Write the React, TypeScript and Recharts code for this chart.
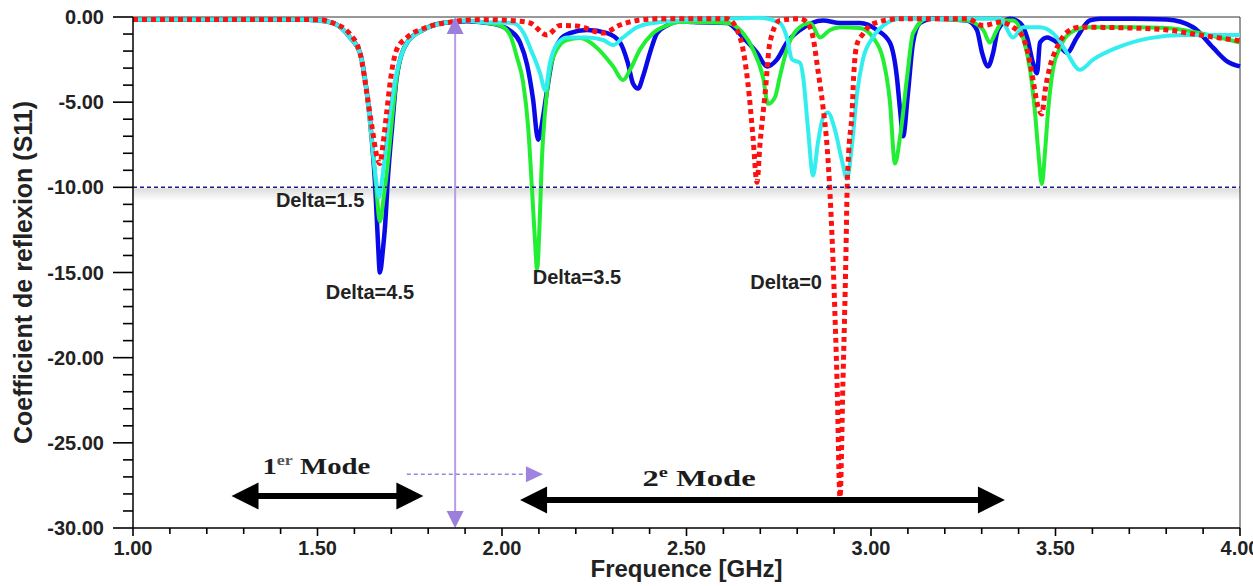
import React from "react"
import {
  LineChart, Line, XAxis, YAxis, ReferenceLine, ReferenceArea, ReferenceDot,
} from "recharts"

const SANS = "'Liberation Sans', Arial, sans-serif"
const SERIF = "'Liberation Serif', 'Times New Roman', serif"

// S11 curves: [frequency GHz, S11 dB]
const delta45: number[][] = [
  [1.0, -0.15], [1.45, -0.15], [1.5, -0.2], [1.542, -0.35], [1.588, -1.2], [1.615, -2.1], [1.634, -4.5],
  [1.648, -7.4], [1.656, -9.8], [1.664, -13.3], [1.669, -15], [1.678, -13.5], [1.683, -12.3], [1.691, -9.4],
  [1.702, -6.5], [1.715, -3.5], [1.743, -1.5], [1.786, -0.76], [1.84, -0.35], [1.905, -0.25], [1.94, -0.3],
  [1.995, -0.5], [2.022, -0.8], [2.049, -1.5], [2.068, -2.8], [2.084, -4.8], [2.098, -7.2], [2.111, -5.9],
  [2.122, -4.3], [2.136, -2.5], [2.157, -1.35], [2.184, -0.95], [2.23, -0.76], [2.285, -0.95], [2.32, -1.5],
  [2.341, -2.7], [2.355, -3.9], [2.369, -4.2], [2.382, -3.5], [2.401, -2.1], [2.42, -0.95], [2.447, -0.5],
  [2.482, -0.25], [2.518, -0.3], [2.61, -0.35], [2.653, -1.2], [2.691, -2.1], [2.718, -2.9], [2.745, -2.5],
  [2.772, -1.5], [2.808, -0.76], [2.87, -0.2], [2.916, -0.35], [2.97, -0.35], [3.016, -0.76], [3.051, -1.5],
  [3.07, -3.5], [3.079, -5.5], [3.087, -7.0], [3.1, -4.5], [3.114, -1.5], [3.133, -0.35], [3.168, -0.1],
  [3.26, -0.2], [3.287, -0.76], [3.301, -2.1], [3.317, -2.9], [3.331, -2.1], [3.344, -0.76], [3.377, -0.1],
  [3.404, -0.35], [3.423, -1.2], [3.439, -2.7], [3.45, -3.3], [3.458, -1.5], [3.477, -1.2], [3.504, -1.5],
  [3.531, -2.1], [3.558, -1.2], [3.593, -0.2], [3.621, -0.1], [3.71, -0.1], [3.802, -0.15], [3.873, -0.6],
  [3.927, -1.8], [3.965, -2.6], [4.0, -2.9],
]

const delta35: number[][] = [
  [1.0, -0.15], [1.45, -0.15], [1.5, -0.2], [1.542, -0.35], [1.588, -1.2], [1.615, -2.1], [1.634, -4.5],
  [1.648, -7.4], [1.659, -10], [1.669, -12], [1.68, -10.5], [1.691, -8.5], [1.702, -6.0], [1.715, -3.5],
  [1.743, -1.5], [1.786, -0.76], [1.84, -0.35], [1.905, -0.2], [1.94, -0.3], [1.995, -0.5], [2.022, -1.06],
  [2.041, -2.4], [2.057, -3.8], [2.071, -6.5], [2.081, -10], [2.089, -13], [2.095, -14.8], [2.103, -11.5],
  [2.108, -8.4], [2.117, -5.5], [2.13, -3.1], [2.149, -1.9], [2.176, -1.35], [2.211, -1.24], [2.257, -1.8],
  [2.301, -2.9], [2.328, -3.7], [2.347, -3.1], [2.374, -1.9], [2.409, -0.95], [2.447, -0.5], [2.482, -0.3],
  [2.518, -0.3], [2.61, -0.35], [2.645, -0.76], [2.68, -1.9], [2.707, -3.5], [2.721, -5.1], [2.74, -4.7],
  [2.753, -3.5], [2.772, -1.9], [2.799, -0.76], [2.835, -0.35], [2.862, -1.2], [2.889, -0.76], [2.916, -0.6],
  [2.97, -0.65], [3.005, -1.2], [3.033, -2.5], [3.051, -4.9], [3.065, -8.6], [3.079, -7], [3.098, -3.5],
  [3.114, -0.95], [3.152, -0.1], [3.26, -0.2], [3.304, -0.76], [3.322, -1.5], [3.341, -0.76], [3.358, -0.2],
  [3.385, -0.2], [3.412, -1.2], [3.431, -3.1], [3.444, -5.5], [3.453, -7.8], [3.463, -9.8], [3.472, -7.8],
  [3.48, -5.5], [3.493, -3.1], [3.512, -1.8], [3.539, -0.95], [3.585, -0.6], [3.71, -0.6], [3.802, -0.65],
  [3.892, -0.95], [4.0, -1.5],
]

const delta15: number[][] = [
  [1.0, -0.15], [1.45, -0.15], [1.5, -0.2], [1.542, -0.35], [1.588, -1.2], [1.615, -2.1], [1.634, -4.5],
  [1.648, -7.4], [1.659, -9.6], [1.667, -10.6], [1.678, -9], [1.691, -6.5], [1.702, -4.8], [1.715, -3.2],
  [1.743, -1.5], [1.786, -0.76], [1.84, -0.35], [1.905, -0.2], [1.94, -0.3], [2.03, -0.35], [2.06, -1.0],
  [2.076, -1.8], [2.103, -3.3], [2.117, -4.3], [2.13, -2.7], [2.149, -1.6], [2.176, -1.2], [2.23, -1.2],
  [2.274, -1.35], [2.301, -1.65], [2.328, -1.2], [2.366, -0.6], [2.409, -0.35], [2.428, -0.3], [2.61, -0.1],
  [2.699, -0.05], [2.753, -0.35], [2.772, -1.2], [2.786, -2.5], [2.808, -2.7], [2.816, -3.5], [2.829, -6.5],
  [2.843, -9.3], [2.856, -7.4], [2.87, -5.9], [2.883, -5.6], [2.902, -6.6], [2.921, -8.4], [2.935, -9.5],
  [2.949, -7.4], [2.962, -4.5], [2.978, -2.5], [3.005, -1.2], [3.043, -0.35], [3.079, -0.1], [3.35, -0.1],
  [3.385, -1.2], [3.412, -0.6], [3.458, -0.6], [3.504, -1.2], [3.531, -2.1], [3.566, -3.1], [3.602, -2.5],
  [3.667, -1.8], [3.756, -1.24], [3.846, -1.06], [4.0, -1.06],
]

const delta0: number[][] = [
  [1.0, -0.15], [1.5, -0.15], [1.542, -0.35], [1.588, -1.0], [1.615, -2.1], [1.634, -4.5], [1.648, -6.5],
  [1.661, -8.2], [1.669, -8.6], [1.678, -7.4], [1.688, -5.5], [1.699, -3.5], [1.715, -1.9], [1.743, -1.2],
  [1.797, -0.6], [1.859, -0.3], [1.94, -0.15], [2.022, -0.2], [2.076, -0.35], [2.122, -1.06], [2.157, -0.5],
  [2.203, -0.53], [2.274, -0.94], [2.32, -0.47], [2.366, -0.2], [2.428, -0.1], [2.61, -0.1], [2.645, -1.2],
  [2.667, -4], [2.68, -7], [2.691, -9.7], [2.699, -7.5], [2.713, -4.5], [2.726, -1.5], [2.753, -0.2],
  [2.808, -0.1], [2.827, -0.35], [2.843, -1.2], [2.856, -3.1], [2.87, -5.3], [2.881, -7.6], [2.889, -10.4],
  [2.9, -16], [2.908, -21.4], [2.916, -28.2], [2.924, -21.4], [2.932, -14], [2.935, -10.4], [2.94, -7.8],
  [2.949, -5.5], [2.953, -3.5], [2.962, -1.6], [2.978, -1.0], [3.005, -0.4], [3.079, -0.1], [3.26, -0.1],
  [3.304, -0.5], [3.35, -0.3], [3.385, -0.6], [3.412, -1.2], [3.431, -2.7], [3.439, -3.7], [3.453, -5.3],
  [3.463, -5.7], [3.472, -4.3], [3.485, -2.9], [3.504, -1.8], [3.531, -0.9], [3.566, -0.6], [3.71, -0.65],
  [3.802, -0.76], [3.892, -1.06], [4.0, -1.4],
]

const xTicks = [
  1.0, 1.1, 1.2, 1.3, 1.4, 1.5, 1.6, 1.7, 1.8, 1.9, 2.0, 2.1, 2.2, 2.3, 2.4, 2.5,
  2.6, 2.7, 2.8, 2.9, 3.0, 3.1, 3.2, 3.3, 3.4, 3.5, 3.6, 3.7, 3.8, 3.9, 4.0,
]
const xMajor = [1.0, 1.5, 2.0, 2.5, 3.0, 3.5, 4.0]
const yTicks = [
  0, -1, -2, -3, -4, -5, -6, -7, -8, -9, -10, -11, -12, -13, -14, -15,
  -16, -17, -18, -19, -20, -21, -22, -23, -24, -25, -26, -27, -28, -29, -30,
]
const yMajor = [0, -5, -10, -15, -20, -25, -30]

// annotations (data coordinates)
const deltaLabels = [
  { text: "Delta=1.5", f: 1.507, s: -11.18 },
  { text: "Delta=4.5", f: 1.642, s: -16.53 },
  { text: "Delta=3.5", f: 2.203, s: -15.65 },
  { text: "Delta=0", f: 2.77, s: -15.94 },
]
const limitS11 = -10
const boundaryF = 1.873
const mode1Arrow = { f1: 1.267, f2: 1.787, s: -28.12 }
const mode2Arrow = { f1: 2.049, f2: 3.363, s: -28.35 }
const shiftArrow = { f1: 1.742, f2: 2.111, s: -26.84 }

const toPts = (arr: number[][]) => arr.map(([f, s]) => ({ f, s }))

const isIn = (list: number[], v: number) => list.some((m) => Math.abs(m - v) < 1e-6)

function XTick(props: any) {
  const x = Number(props.x)
  const y = Number(props.y)
  const v = Number(props.payload.value)
  const major = isIn(xMajor, v)
  return (
    <g transform={`translate(${x},${y})`}>
      <path d={`M0,0 V${major ? 8 : 6}`} stroke="#000" strokeWidth={1.6} fill="none" />
      {major && (
        <text x={0} y={27} textAnchor="middle" fontFamily={SANS} fontWeight={700} fontSize={20} fill="#222" stroke="none">
          {v.toFixed(2)}
        </text>
      )}
    </g>
  )
}

function YTick(props: any) {
  const x = Number(props.x)
  const y = Number(props.y)
  const v = Number(props.payload.value)
  const major = isIn(yMajor, v)
  return (
    <g transform={`translate(${x},${y})`}>
      <path d={`M${major ? -20 : -10},0 H0`} stroke="#000" strokeWidth={1.6} fill="none" />
      {major && (
        <text x={-29} y={7} textAnchor="end" fontFamily={SANS} fontWeight={700} fontSize={20} fill="#222" stroke="none">
          {v.toFixed(2)}
        </text>
      )}
    </g>
  )
}

function XTitle({ viewBox }: any) {
  return (
    <text x={viewBox.x + viewBox.width / 2} y={viewBox.y + 49} textAnchor="middle"
      fontFamily={SANS} fontWeight={700} fontSize={24} fill="#222">
      Frequence [GHz]
    </text>
  )
}

function YTitle({ viewBox }: any) {
  const cx = 24
  const cy = viewBox.y + viewBox.height / 2
  return (
    <text transform={`translate(${cx},${cy}) rotate(-90)`} textAnchor="middle" dy={8}
      fontFamily={SANS} fontWeight={700} fontSize={25} fill="#222">
      Coefficient de reflexion (S11)
    </text>
  )
}

type ArrowOpts = { color: string; width: number; headLen: number; headW: number; both?: boolean; dash?: string; lineColor?: string }

const arrowShape = (o: ArrowOpts) => (p: any) => {
  const { x1, y1, x2, y2 } = p
  const dx = x2 - x1
  const dy = y2 - y1
  const len = Math.hypot(dx, dy) || 1
  const ux = dx / len
  const uy = dy / len
  const nx = -uy
  const ny = ux
  const head = (tx: number, ty: number, sx: number, sy: number) => {
    const bx = tx - sx * o.headLen
    const by = ty - sy * o.headLen
    return `${tx},${ty} ${bx + (nx * o.headW) / 2},${by + (ny * o.headW) / 2} ${bx - (nx * o.headW) / 2},${by - (ny * o.headW) / 2}`
  }
  const sx = o.both ? x1 + ux * o.headLen * 0.8 : x1
  const sy = o.both ? y1 + uy * o.headLen * 0.8 : y1
  const ex = x2 - ux * o.headLen * 0.8
  const ey = y2 - uy * o.headLen * 0.8
  return (
    <g>
      <line x1={sx} y1={sy} x2={ex} y2={ey} stroke={o.lineColor ?? o.color} strokeWidth={o.width} strokeDasharray={o.dash} />
      <polygon points={head(x2, y2, ux, uy)} fill={o.color} />
      {o.both && <polygon points={head(x1, y1, -ux, -uy)} fill={o.color} />}
    </g>
  )
}

const deltaShape = (text: string) => (p: any) => (
  <text x={p.cx} y={p.cy} textAnchor="middle" fontFamily={SANS} fontWeight={700} fontSize={20} fill="#222">
    {text}
  </text>
)

const modeShape = (num: string, sup: string, stretch: number, supColor: string) => (p: any) => (
  <g transform={`translate(${p.cx},${p.cy}) scale(${stretch},1)`}>
    <text textAnchor="middle" fontFamily={SERIF} fontWeight={700} fontSize={24} fill="#1c1c1c">
      {num}
      <tspan fontSize={15} dy={-9} fill={supColor}>{sup}</tspan>
      <tspan dy={9}>{" Mode"}</tspan>
    </text>
  </g>
)

export default function App() {
  return (
    <div style={{ position: "absolute", left: 0, top: 0, width: 1253, height: 586, background: "#fff" }}>
      <LineChart width={1253} height={586} margin={{ top: 17, right: 13, bottom: 0, left: 0 }}>
        <defs>
          <linearGradient id="limitShadow" x1="0" y1="0" x2="0" y2="1">
            <stop offset="0%" stopColor="#dcdcdc" />
            <stop offset="45%" stopColor="#ececec" />
            <stop offset="100%" stopColor="#ffffff" />
          </linearGradient>
        </defs>
        <XAxis
          dataKey="f"
          type="number"
          domain={[1, 4]}
          ticks={xTicks}
          interval={0}
          height={58}
          tickSize={0}
          tickMargin={0}
          tickLine={false}
          axisLine={{ stroke: "#000", strokeWidth: 1.5 }}
          tick={(p: any) => <XTick {...p} />}
          label={<XTitle />}
        />
        <YAxis
          dataKey="s"
          type="number"
          domain={[-30, 0]}
          ticks={yTicks}
          interval={0}
          width={133}
          tickSize={0}
          tickMargin={0}
          tickLine={false}
          axisLine={{ stroke: "#000", strokeWidth: 1.5 }}
          tick={(p: any) => <YTick {...p} />}
          label={<YTitle />}
        />
        <ReferenceArea y1={limitS11 - 0.05} y2={limitS11 - 0.8} fill="url(#limitShadow)" fillOpacity={1} stroke="none" />
        <ReferenceLine y={0} stroke="#333" strokeWidth={1} />
        <ReferenceLine x={4} stroke="#333" strokeWidth={1} />

        <Line data={toPts(delta45)} dataKey="s" type="monotone" stroke="#0a0ae8" strokeWidth={4.5} dot={false} activeDot={false} isAnimationActive={false} />
        <Line data={toPts(delta35)} dataKey="s" type="monotone" stroke="#22ee33" strokeWidth={4} dot={false} activeDot={false} isAnimationActive={false} />
        <Line data={toPts(delta15)} dataKey="s" type="monotone" stroke="#33eeee" strokeWidth={4} dot={false} activeDot={false} isAnimationActive={false} />
        <Line data={toPts(delta0)} dataKey="s" type="monotone" stroke="#ff1010" strokeWidth={5} strokeDasharray="5 4" dot={false} activeDot={false} isAnimationActive={false} />

        <ReferenceLine y={limitS11} stroke="#1a1a8c" strokeWidth={1.5} strokeDasharray="4 3" />

        <ReferenceLine
          segment={[{ x: boundaryF, y: 0 }, { x: boundaryF, y: -30 }]}
          shape={arrowShape({ color: "#9b7fdb", lineColor: "#b49ee6", width: 2, headLen: 17, headW: 17, both: true })}
        />
        <ReferenceLine
          segment={[{ x: shiftArrow.f1, y: shiftArrow.s }, { x: shiftArrow.f2, y: shiftArrow.s }]}
          shape={arrowShape({ color: "#a083e0", width: 1.5, headLen: 17, headW: 16, dash: "4 3" })}
        />
        <ReferenceLine
          segment={[{ x: mode1Arrow.f1, y: mode1Arrow.s }, { x: mode1Arrow.f2, y: mode1Arrow.s }]}
          shape={arrowShape({ color: "#000", width: 6, headLen: 27, headW: 27, both: true })}
        />
        <ReferenceLine
          segment={[{ x: mode2Arrow.f1, y: mode2Arrow.s }, { x: mode2Arrow.f2, y: mode2Arrow.s }]}
          shape={arrowShape({ color: "#000", width: 6, headLen: 27, headW: 27, both: true })}
        />

        {deltaLabels.map((d) => (
          <ReferenceDot key={d.text} x={d.f} y={d.s} r={0} shape={deltaShape(d.text)} />
        ))}
        <ReferenceDot x={1.497} y={-26.82} r={0} shape={modeShape("1", "er", 1.2, "#555")} />
        <ReferenceDot x={2.534} y={-27.53} r={0} shape={modeShape("2", "e", 1.36, "#1c1c1c")} />
      </LineChart>
    </div>
  )
}
